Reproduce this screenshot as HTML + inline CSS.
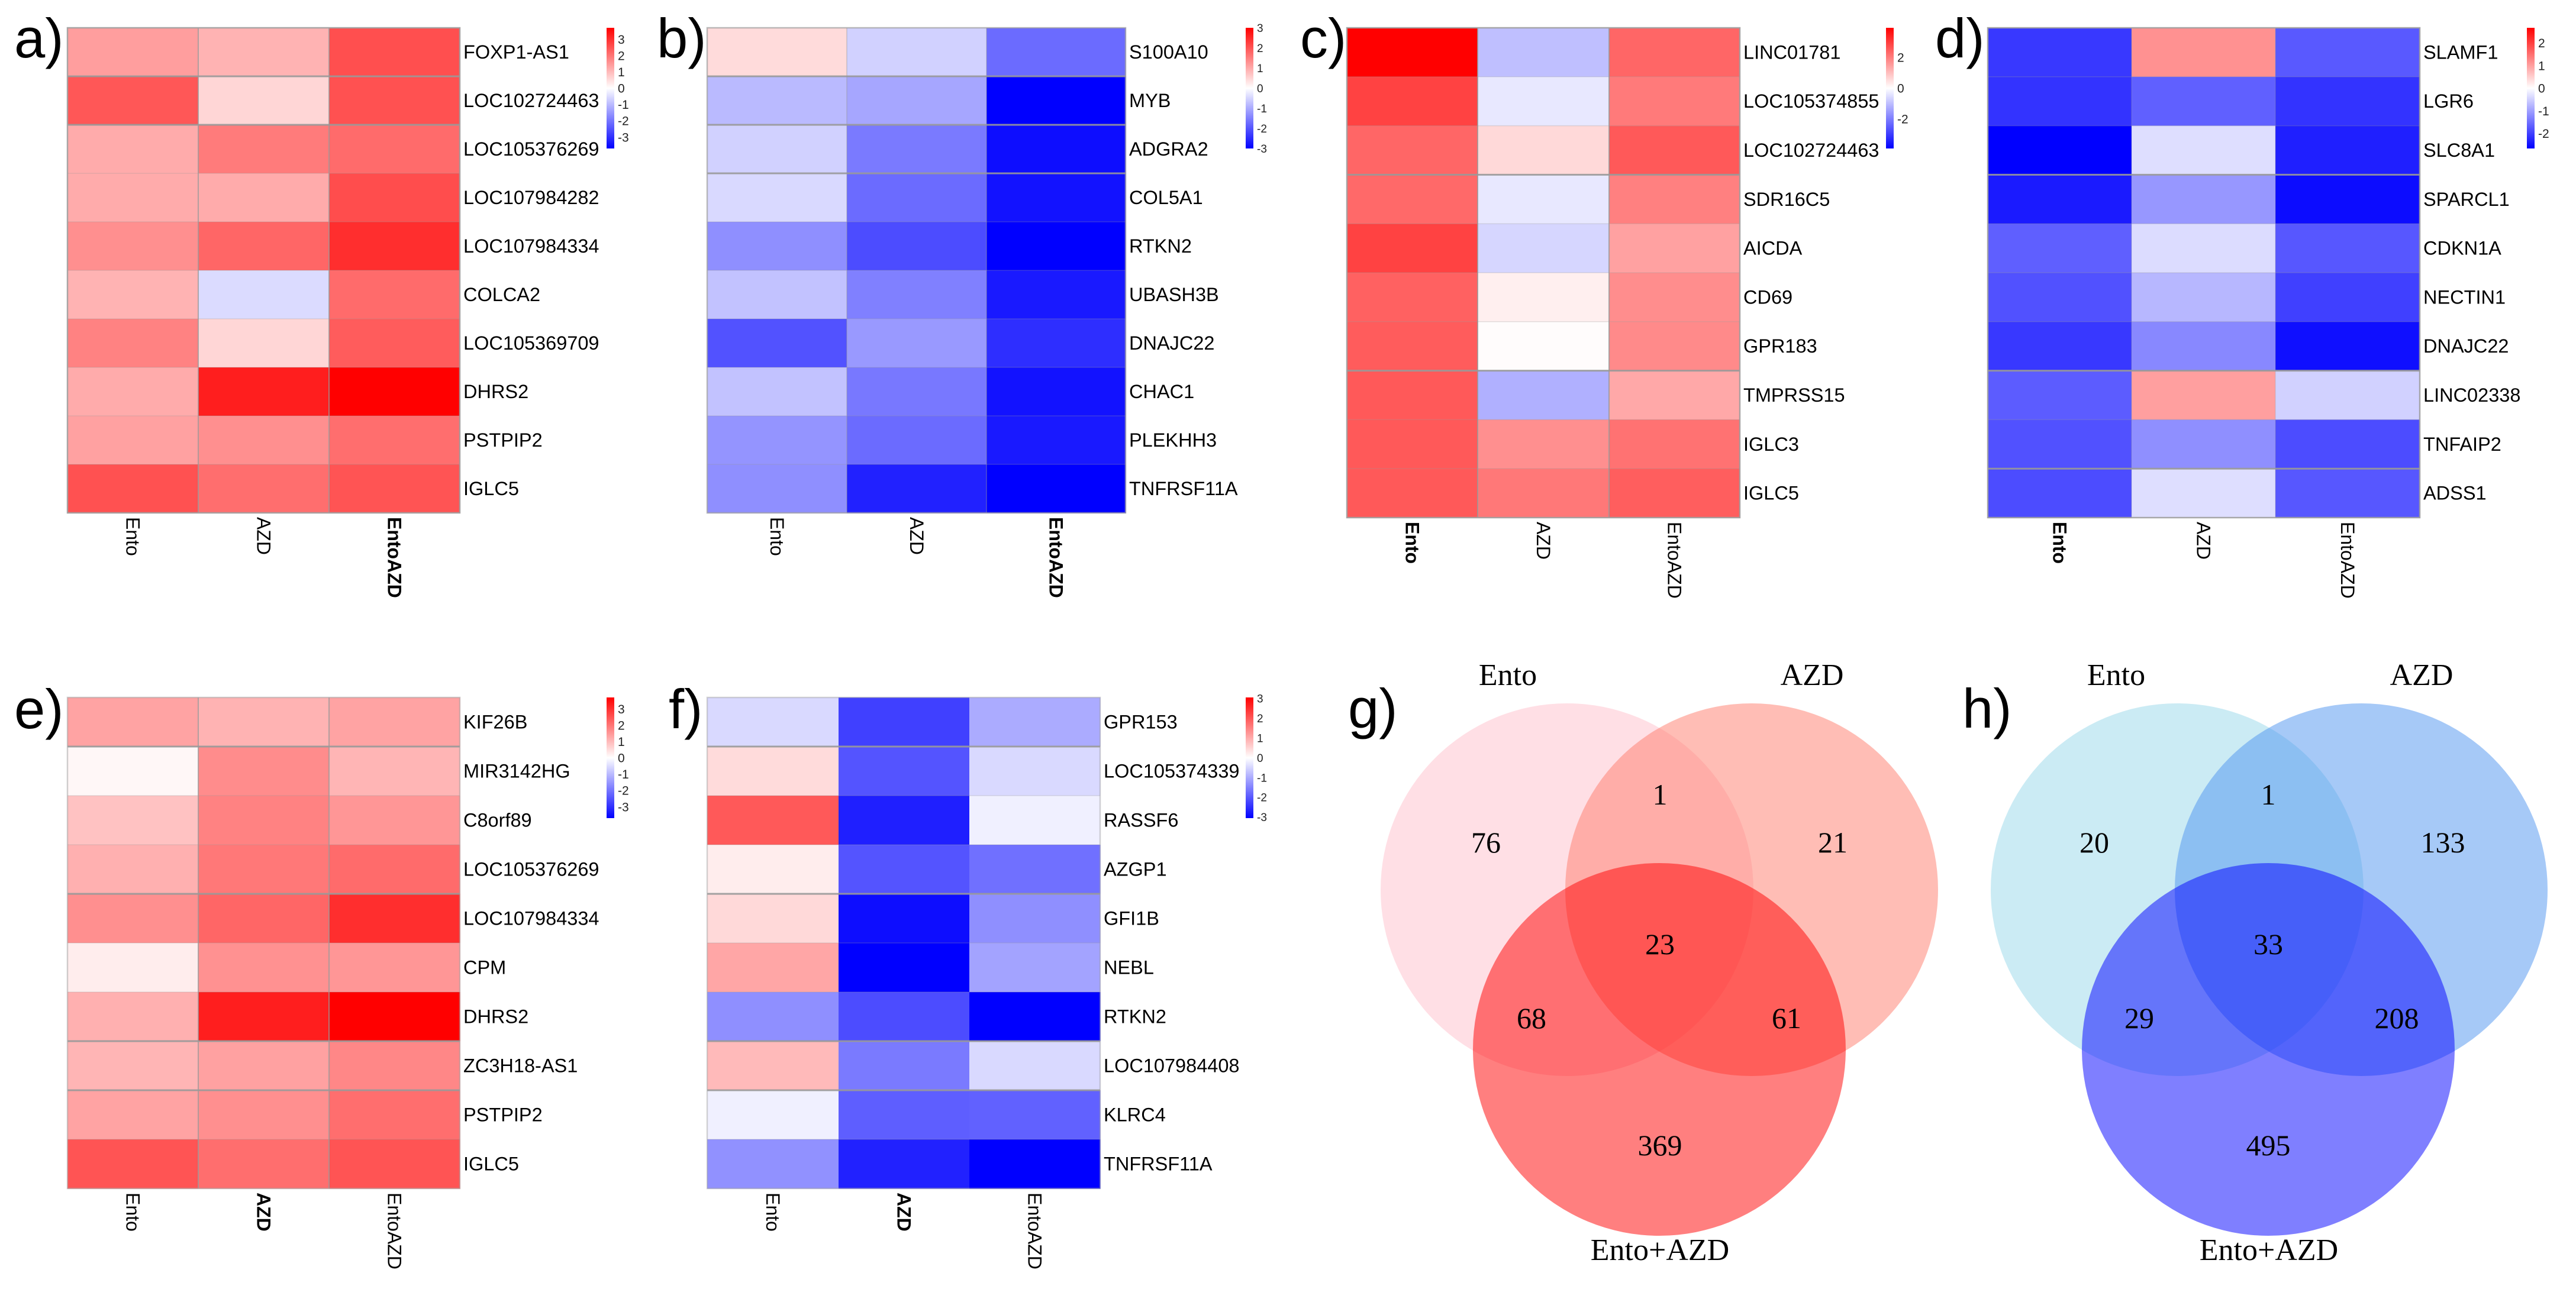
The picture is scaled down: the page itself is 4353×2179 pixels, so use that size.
<!DOCTYPE html>
<html lang="en">
<head>
<meta charset="utf-8">
<title>Heatmaps and Venn diagrams</title>
<style>
html,body{margin:0;padding:0;background:#fff}
svg{display:block}
.letter{font-family:"Liberation Sans",sans-serif;font-size:94px;fill:#000}
.vl{font-family:"Liberation Serif",serif;font-size:52px;fill:#000}
.vn{font-family:"Liberation Serif",serif;font-size:50px;fill:#000;text-anchor:middle}
</style>
</head>
<body>
<svg id="fig" xmlns="http://www.w3.org/2000/svg" width="4353" height="2179" viewBox="0 0 4353 2179">
<defs>
<linearGradient id="cbar" x1="0" y1="0" x2="0" y2="1">
<stop offset="0" stop-color="#ff0000"/><stop offset="0.5" stop-color="#ffffff"/><stop offset="1" stop-color="#0000ff"/>
</linearGradient>
</defs>
<rect width="4353" height="2179" fill="#fff"/>

<text class="letter" x="24" y="97">a)</text>
<text class="letter" x="1110" y="97">b)</text>
<text class="letter" x="2197" y="97">c)</text>
<text class="letter" x="3270" y="97">d)</text>
<text class="letter" x="24" y="1231">e)</text>
<text class="letter" x="1130" y="1231">f)</text>
<text class="letter" x="2278" y="1230">g)</text>
<text class="letter" x="3316" y="1230">h)</text>

<g id="venn-g">
<circle cx="2648" cy="1504" r="315" fill="rgb(255,192,203)" fill-opacity="0.5"/>
<circle cx="2960" cy="1504" r="315" fill="rgb(255,124,107)" fill-opacity="0.5"/>
<circle cx="2804" cy="1774" r="315" fill="rgb(255,0,0)" fill-opacity="0.5"/>
<text class="vl" x="2548" y="1158" text-anchor="middle">Ento</text>
<text class="vl" x="3062" y="1158" text-anchor="middle">AZD</text>
<text class="vl" x="2805" y="2130" text-anchor="middle">Ento+AZD</text>
<text class="vn" x="2511" y="1441">76</text>
<text class="vn" x="2805" y="1360">1</text>
<text class="vn" x="3097" y="1441">21</text>
<text class="vn" x="2805" y="1613">23</text>
<text class="vn" x="2588" y="1738">68</text>
<text class="vn" x="3019" y="1738">61</text>
<text class="vn" x="2805" y="1953">369</text>
</g>

<g id="venn-h">
<circle cx="3679" cy="1504" r="315" fill="rgb(151,215,233)" fill-opacity="0.5"/>
<circle cx="3990" cy="1504" r="315" fill="rgb(77,147,239)" fill-opacity="0.5"/>
<circle cx="3833" cy="1774" r="315" fill="rgb(0,0,255)" fill-opacity="0.5"/>
<text class="vl" x="3576" y="1158" text-anchor="middle">Ento</text>
<text class="vl" x="4092" y="1158" text-anchor="middle">AZD</text>
<text class="vl" x="3834" y="2130" text-anchor="middle">Ento+AZD</text>
<text class="vn" x="3539" y="1441">20</text>
<text class="vn" x="3833" y="1360">1</text>
<text class="vn" x="4128" y="1441">133</text>
<text class="vn" x="3833" y="1613">33</text>
<text class="vn" x="3615" y="1738">29</text>
<text class="vn" x="4050" y="1738">208</text>
<text class="vn" x="3833" y="1953">495</text>
</g>
</svg>

<script>
const treatments = ['Ento', 'AZD', 'EntoAZD'];

const genesA = ['FOXP1-AS1','LOC102724463','LOC105376269','LOC107984282','LOC107984334','COLCA2','LOC105369709','DHRS2','PSTPIP2','IGLC5'];
const valuesA = [
  [1.41,1.11,2.55],[2.44,0.59,2.52],[1.22,1.92,2.15],[1.22,1.22,2.59],[1.63,2.22,3.03],
  [1.11,-0.52,2.15],[1.81,0.59,2.37],[1.22,3.26,3.7],[1.37,1.63,2.11],[2.52,2.11,2.48]
];
const ticksA = [3,2,1,0,-1,-2,-3];

const genesB = ['S100A10','MYB','ADGRA2','COL5A1','RTKN2','UBASH3B','DNAJC22','CHAC1','PLEKHH3','TNFRSF11A'];
const valuesB = [
  [0.42,-0.54,-1.74],[-0.81,-1.05,-3],[-0.54,-1.56,-2.85],[-0.45,-1.74,-2.79],[-1.32,-2.1,-3],
  [-0.72,-1.5,-2.7],[-2.04,-1.2,-2.46],[-0.72,-1.59,-2.79],[-1.26,-1.74,-2.7],[-1.32,-2.61,-3]
];
const ticksB = [3,2,1,0,-1,-2,-3];

const genesC = ['LINC01781','LOC105374855','LOC102724463','SDR16C5','AICDA','CD69','GPR183','TMPRSS15','IGLC3','IGLC5'];
const valuesC = [
  [3.92,-0.98,2.35],[2.9,-0.35,2.04],[2.35,0.59,2.55],[2.31,-0.35,1.96],[2.9,-0.63,1.45],
  [2.43,0.24,1.76],[2.51,0.04,1.8],[2.55,-1.22,1.33],[2.55,1.72,2.16],[2.55,2.08,2.47]
];
const ticksC = [2,0,-2];

const genesD = ['SLAMF1','LGR6','SLC8A1','SPARCL1','CDKN1A','NECTIN1','DNAJC22','LINC02338','TNFAIP2','ADSS1'];
const valuesD = [
  [-2.08,1.15,-1.74],[-2.14,-1.66,-2.14],[-2.67,-0.35,-2.35],[-2.4,-1.09,-2.54],[-1.68,-0.37,-1.76],
  [-1.82,-0.75,-2],[-2.08,-1.25,-2.51],[-1.71,1.01,-0.48],[-1.82,-1.17,-1.87],[-1.87,-0.35,-1.76]
];
const ticksD = [2,1,0,-1,-2];

const genesE = ['KIF26B','MIR3142HG','C8orf89','LOC105376269','LOC107984334','CPM','DHRS2','ZC3H18-AS1','PSTPIP2','IGLC5'];
const valuesE = [
  [1.33,1.11,1.33],[0.11,1.67,1.07],[0.89,1.81,1.52],[1.15,1.96,2.15],[1.63,2.22,3.03],
  [0.26,1.59,1.52],[1.15,3.26,3.7],[1.07,1.37,1.74],[1.33,1.63,2.11],[2.48,2.11,2.48]
];
const ticksE = [3,2,1,0,-1,-2,-3];

const genesF = ['GPR153','LOC105374339','RASSF6','AZGP1','GFI1B','NEBL','RTKN2','LOC107984408','KLRC4','TNFRSF11A'];
const valuesF = [
  [-0.46,-2.29,-1.01],[0.43,-2.04,-0.46],[1.98,-2.68,-0.18],[0.21,-2.04,-1.71],[0.46,-2.9,-1.34],
  [1.07,-3.05,-1.1],[-1.34,-2.14,-3.05],[0.82,-1.59,-0.46],[-0.18,-1.92,-1.89],[-1.31,-2.65,-3.05]
];
const ticksF = [3,2,1,0,-1,-2,-3];

const SVGNS = 'http://www.w3.org/2000/svg';
const svg = document.getElementById('fig');

function mk(tag, attrs, parent) {
  const node = document.createElementNS(SVGNS, tag);
  for (const k in attrs) node.setAttribute(k, attrs[k]);
  parent.appendChild(node);
  return node;
}

function colorScale(v, vmax) {
  const s = Math.max(-1, Math.min(1, v / vmax));
  const c = Math.round(255 * (1 - Math.abs(s)));
  return s >= 0 ? 'rgb(255,' + c + ',' + c + ')' : 'rgb(' + c + ',' + c + ',255)';
}

function drawHeatmap(cfg) {
  const g = mk('g', {}, svg);
  
  
  const nRows = cfg.values.length;
  const xPos = function (i) { return cfg.xEdges[i]; };
  const yPos = function (i) { return cfg.top + (cfg.bottom - cfg.top) * i / nRows; };

  cfg.values.forEach(function (row, r) {
    row.forEach(function (v, c) {
      const cell = mk('rect', {
        x: xPos(c), y: yPos(r),
        width: xPos(c + 1) - xPos(c) + 0.5,
        height: yPos(r + 1) - yPos(r) + 0.5,
        fill: colorScale(v, cfg.vmax)
      }, g);
      
      
    });
  });

  for (let r = 1; r < nRows; r++) {
    const strong = cfg.strongRows.indexOf(r) >= 0;
    const hl = mk('line', {
      x1: cfg.xEdges[0], x2: cfg.xEdges[3], y1: yPos(r), y2: yPos(r),
      stroke: '#999', 'stroke-width': strong ? 3 : 1.5, 'stroke-opacity': strong ? 0.9 : 0.28
    }, g);
    
    
  }
  for (let c = 1; c < 3; c++) {
    const vl = mk('line', {
      x1: xPos(c), x2: xPos(c), y1: cfg.top, y2: cfg.bottom,
      stroke: '#999', 'stroke-width': 2, 'stroke-opacity': cfg.vOpacity
    }, g);
    
    
  }
  const frame = mk('rect', {
    x: cfg.xEdges[0], y: cfg.top,
    width: cfg.xEdges[3] - cfg.xEdges[0], height: cfg.bottom - cfg.top,
    fill: 'none', stroke: '#a0a0a0', 'stroke-width': 2.5, 'stroke-opacity': cfg.frameOpacity
  }, g);
  
  

  cfg.genes.forEach(function (gene, r) {
    const t = mk('text', {
      x: cfg.xEdges[3] + 6, y: (yPos(r) + yPos(r + 1)) / 2 + 11,
      'font-family': '"Liberation Sans", sans-serif', 'font-size': 32.5, fill: '#000'
    }, g);
    t.textContent = gene;
    
    
  });

  treatments.forEach(function (name, c) {
    const cx = (xPos(c) + xPos(c + 1)) / 2;
    const y0 = cfg.bottom + 7;
    const t = mk('text', {
      x: 0, y: 0, dy: 11,
      transform: 'translate(' + cx + ' ' + y0 + ') rotate(90)',
      'font-family': '"Liberation Sans", sans-serif', 'font-size': 32,
      'font-weight': c === cfg.boldCol ? 'bold' : 'normal', fill: '#000'
    }, g);
    t.textContent = name;
    
    
  });

  const barTop = cfg.top;
  const barH = 204;
  const bar = mk('rect', { x: cfg.barX, y: barTop, width: 13, height: barH, fill: 'url(#cbar)' }, g);
  
  
  const tickY = function (v) { return barTop + barH / 2 - v / cfg.vmax * barH / 2; };
  cfg.ticks.forEach(function (v) {
    const t = mk('text', {
      x: cfg.barX + 19, y: tickY(v) + cfg.tickSize * 0.36,
      'font-family': '"Liberation Sans", sans-serif', 'font-size': cfg.tickSize, fill: '#222'
    }, g);
    t.textContent = String(v);
    
    
  });
}

drawHeatmap({ id: 'a', genes: genesA, values: valuesA, ticks: ticksA, vmax: 3.7, boldCol: 2,
  xEdges: [114, 335, 556, 777], top: 47, bottom: 867, barX: 1025, tickSize: 21,
  strongRows: [1, 2], vOpacity: 0.75, frameOpacity: 0.9 });
drawHeatmap({ id: 'b', genes: genesB, values: valuesB, ticks: ticksB, vmax: 3, boldCol: 2,
  xEdges: [1195, 1431, 1667, 1902], top: 47, bottom: 867, barX: 2105, tickSize: 19,
  strongRows: [1, 2, 3], vOpacity: 0.35, frameOpacity: 0.7 });
drawHeatmap({ id: 'c', genes: genesC, values: valuesC, ticks: ticksC, vmax: 3.92, boldCol: 0,
  xEdges: [2276, 2497, 2719, 2940], top: 47, bottom: 875, barX: 3187, tickSize: 21,
  strongRows: [3, 7], vOpacity: 0.8, frameOpacity: 0.9 });
drawHeatmap({ id: 'd', genes: genesD, values: valuesD, ticks: ticksD, vmax: 2.67, boldCol: 0,
  xEdges: [3359, 3602, 3845, 4089], top: 47, bottom: 875, barX: 4270, tickSize: 21,
  strongRows: [3, 7, 9], vOpacity: 0.2, frameOpacity: 0.9 });
drawHeatmap({ id: 'e', genes: genesE, values: valuesE, ticks: ticksE, vmax: 3.7, boldCol: 1,
  xEdges: [114, 335, 556, 777], top: 1179, bottom: 2009, barX: 1025, tickSize: 21,
  strongRows: [1, 4, 7, 8], vOpacity: 0.75, frameOpacity: 0.5 });
drawHeatmap({ id: 'f', genes: genesF, values: valuesF, ticks: ticksF, vmax: 3.05, boldCol: 1,
  xEdges: [1195, 1417, 1638, 1859], top: 1179, bottom: 2009, barX: 2105, tickSize: 19,
  strongRows: [1, 4, 7, 8], vOpacity: 0, frameOpacity: 0.45 });
</script>
</body>
</html>
